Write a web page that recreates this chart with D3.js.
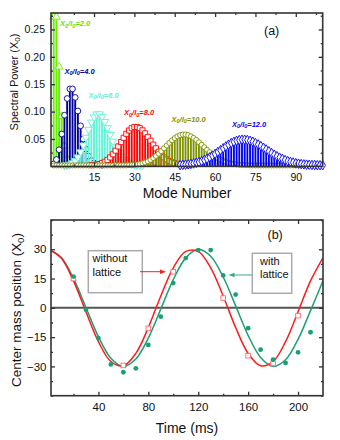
<!DOCTYPE html>
<html>
<head>
<meta charset="utf-8">
<script src="https://cdn.jsdelivr.net/npm/d3@7"></script>
<style>
body { margin: 0; background: #fff; }
svg { font-family: "Liberation Sans", Arial, sans-serif; }
</style>
</head>
<body>
<svg id="chart" width="340" height="440"></svg>
<script>
// ---- panel (a): spectral power per mode, one series per X0/l0 ----
var ratioNames = ['2.0', '4.0', '6.0', '8.0', '10.0', '12.0'];
var ratioColors = ['#66f000', '#00009c', '#62f2d6', '#ff0000', '#7e9200', '#0000ff'];
var labelColors = ['#66e000', '#00009c', '#5eeed2', '#ff0000', '#7e9200', '#0000ff'];
var firstMode = [0, 0, 4, 14, 0, 47];

var power2 = [0.271, 0.271, 0.180, 0.090, 0.036, 0.012, 0.003, 0.001];
var power4 = [0.0027, 0.0107, 0.0286, 0.0573, 0.0916, 0.1221, 0.1396, 0.1396, 0.1241, 0.0993,
              0.0722, 0.0481, 0.0296, 0.0169, 0.0090, 0.0045, 0.0021, 0.0009, 0.0004];
var power6 = [0.0003, 0.0007, 0.0019, 0.0042, 0.0083, 0.0150, 0.0245, 0.0368, 0.0509, 0.0655,
              0.0786, 0.0884, 0.0936, 0.0936, 0.0887, 0.0798, 0.0684, 0.0560, 0.0438, 0.0328,
              0.0237, 0.0164, 0.0109, 0.0070, 0.0044, 0.0026, 0.0015, 0.0009, 0.0005, 0.0003];
var power8 = [0.0004, 0.0008, 0.0014, 0.0024, 0.0041, 0.0066, 0.0100, 0.0146, 0.0203, 0.0270,
              0.0346, 0.0426, 0.0505, 0.0577, 0.0637, 0.0679, 0.0701, 0.0701, 0.0680, 0.0640,
              0.0585, 0.0520, 0.0450, 0.0379, 0.0311, 0.0249, 0.0194, 0.0148, 0.0110, 0.0080,
              0.0057, 0.0040, 0.0027, 0.0018, 0.0012, 0.0008, 0.0005];
var power10 = [0, 0, 0, 0, 0, 0, 0, 0, 0, 0, 0, 0, 0, 0, 0, 0, 0, 0, 0, 0, 0, 0, 0, 0, 0, 0, 0, 0,
               0.0004, 0.0007, 0.0011, 0.0017, 0.0026, 0.0038, 0.0054, 0.0075, 0.0102, 0.0134,
               0.0172, 0.0215, 0.0262, 0.0312, 0.0363, 0.0412, 0.0458, 0.0498, 0.0530, 0.0552,
               0.0563, 0.0563, 0.0552, 0.0531, 0.0501, 0.0464, 0.0422, 0.0377, 0.0331, 0.0285,
               0.0242, 0.0201, 0.0165, 0.0133, 0.0106, 0.0083, 0.0064, 0.0048, 0.0036, 0.0026,
               0.0019, 0.0014, 0.0010, 0.0007, 0.0005,
               0, 0, 0, 0, 0, 0, 0, 0, 0, 0, 0, 0, 0, 0, 0, 0, 0, 0, 0, 0, 0, 0, 0, 0, 0, 0, 0];
var power12 = [0.0006, 0.0009, 0.0013, 0.0019, 0.0026, 0.0035, 0.0047, 0.0061, 0.0078, 0.0098,
               0.0121, 0.0148, 0.0178, 0.0210, 0.0244, 0.0278, 0.0313, 0.0347, 0.0379, 0.0407,
               0.0431, 0.0450, 0.0462, 0.0469, 0.0469, 0.0463, 0.0450, 0.0432, 0.0409, 0.0383,
               0.0353, 0.0322, 0.0290, 0.0258, 0.0226, 0.0196, 0.0168, 0.0142, 0.0119, 0.0098,
               0.0080, 0.0065, 0.0052, 0.0041, 0.0032, 0.0025, 0.0019, 0.0014, 0.0011, 0.0008,
               0.0006, 0.0004, 0.0003, 0.0002];
var powerSeries = [power2, power4, power6, power8, power10, power12];
var markerShapes = [d3.symbolTriangle, d3.symbolCircle, 'down', d3.symbolSquare, d3.symbolCircle, d3.symbolDiamond];

var modeTicks = [15, 30, 45, 60, 75, 90];
var powerTicks = [0.05, 0.10, 0.15, 0.20, 0.25];

// ---- panel (b): center of mass oscillation ----
var fitTimes = [0, 10, 20, 30, 40, 50, 60, 70, 80, 90, 100, 110, 120, 130, 140, 150, 160, 170, 180, 190, 200, 210, 220];
var fitFree = [30, 25.6, 13.8, -2.0, -17.3, -27.5, -29.7, -23.3, -10.1, 6.1, 20.5, 28.9,
               28.9, 20.5, 6.1, -10.1, -23.3, -29.7, -27.5, -17.3, -2.0, 13.8, 25.6];
var fitLattice = [30, 26.0, 15.1, 0.2, -14.8, -25.8, -30.0, -26.2, -15.5, -0.6, 14.5, 25.6,
                  30.0, 26.4, 15.8, 1.0, -14.1, -25.4, -30.0, -26.6, -16.1, -1.4, 13.8];
var latticeTimes = [20, 30, 40, 50, 60, 70, 80, 90, 100, 110, 120, 130, 140, 150, 160, 170, 180, 190, 200, 210];
var latticePos = [16, -1, -15.5, -29, -33, -31, -19, -4.5, 12.7, 25.5, 29.6, 29.6, 16.6, 6.8,
                  -10.4, -21.4, -26.5, -28.2, -22.8, -12.5];
var freeTimes = [20, 60, 80, 100, 140, 160, 180, 200];
var freePos = [15, -29.5, -10.5, 18.5, 5, -24.5, -28.5, -4];

var timeTicks = [40, 80, 120, 160, 200];
var posTicks = [-30, -15, 0, 15, 30];

var svg = d3.select('#chart');
var frameColor = '#333';

// frame with inward ticks on all four sides
function drawFrame(x, y, o) {
    var x0 = x.range()[0], x1 = x.range()[1], y0 = y.range()[0], y1 = y.range()[1];
    var g = svg.append('g');

    g.append('g').attr('transform', `translate(0,${y0})`)
        .call(d3.axisBottom(x).tickValues(o.xMajor).tickSize(-4).tickPadding(o.xPad).tickFormat(d3.format('d')));
    g.append('g').attr('transform', `translate(0,${y0})`)
        .call(d3.axisBottom(x).tickValues(o.xMinor).tickSize(-2).tickFormat(''));
    g.append('g').attr('transform', `translate(0,${y1})`)
        .call(d3.axisTop(x).tickValues(o.xMajor).tickSize(-4).tickFormat(''));
    g.append('g').attr('transform', `translate(0,${y1})`)
        .call(d3.axisTop(x).tickValues(o.xMinor).tickSize(-2).tickFormat(''));

    g.append('g').attr('transform', `translate(${x0},0)`)
        .call(d3.axisLeft(y).tickValues(o.yMajor).tickSize(-4).tickPadding(o.yPad).tickFormat(o.yFmt));
    g.append('g').attr('transform', `translate(${x0},0)`)
        .call(d3.axisLeft(y).tickValues(o.yMinor).tickSize(-2).tickFormat(''));
    g.append('g').attr('transform', `translate(${x1},0)`)
        .call(d3.axisRight(y).tickValues(o.yMajor).tickSize(-4).tickFormat(''));
    g.append('g').attr('transform', `translate(${x1},0)`)
        .call(d3.axisRight(y).tickValues(o.yMinor).tickSize(-2).tickFormat(''));

    g.selectAll('.domain').remove();
    g.selectAll('.tick line').attr('stroke', frameColor).attr('stroke-width', 1.3);
    g.selectAll('.tick text').attr('fill', '#111').style('font-size', o.fs + 'px')
        .style('font-family', '"Liberation Sans", Arial, sans-serif');

    g.append('rect')
        .attr('x', x0).attr('y', y1)
        .attr('width', x1 - x0).attr('height', y0 - y1)
        .attr('fill', 'none').attr('stroke', frameColor).attr('stroke-width', 1.6);
}

// ================= panel (a) =================
var ax = d3.scaleLinear().domain([-1, 100]).range([51, 322.7]);
var ay = d3.scaleLinear().domain([0, 0.28]).range([166.4, 13]);
var barW = (ax(1) - ax(0)) * 0.7;

var plotA = svg.append('g');
powerSeries.forEach(function (vals, s) {
    var pts = vals.map((v, i) => ({ mode: firstMode[s] + i, p: v }))
        .filter(d => d.mode <= 100);
    var g = plotA.append('g');
    g.selectAll('rect')
        .data(pts.filter(d => d.p > 0))
        .enter().append('rect')
        .attr('x', d => ax(d.mode) - barW / 2)
        .attr('width', barW)
        .attr('y', d => ay(d.p))
        .attr('height', d => ay(0) - ay(d.p))
        .attr('fill', ratioColors[s]);

    var shape = markerShapes[s] === 'down' ? d3.symbolTriangle : markerShapes[s];
    var sym = d3.symbol().type(shape).size(s === 4 ? 20 : 26);
    g.selectAll('path')
        .data(pts)
        .enter().append('path')
        .attr('d', sym)
        .attr('transform', d => `translate(${ax(d.mode)},${ay(d.p) - 1})` + (markerShapes[s] === 'down' ? ' rotate(180)' : ''))
        .attr('fill', 'white')
        .attr('stroke', ratioColors[s])
        .attr('stroke-width', 0.9);
});

drawFrame(ax, ay, {
    xMajor: modeTicks, xMinor: d3.range(7.5, 100, 15), xPad: 7.5,
    yMajor: powerTicks, yMinor: d3.range(0.025, 0.28, 0.05), yPad: 6,
    yFmt: d3.format('.2f'), fs: 10.5
});

// series labels X0/l0 = ...
var labelPos = [[60, 26], [64.5, 73.5], [88.5, 97.5], [124, 115], [171.5, 121.5], [232, 126.5]];
ratioNames.forEach(function (name, s) {
    var t = svg.append('text')
        .attr('x', labelPos[s][0]).attr('y', labelPos[s][1])
        .attr('fill', labelColors[s])
        .style('font-size', '7.5px').style('font-weight', 'bold').style('font-style', 'italic');
    t.append('tspan').text('X');
    t.append('tspan').attr('dy', 1.8).style('font-size', '5.5px').text('0');
    t.append('tspan').attr('dy', -1.8).text('/l');
    t.append('tspan').attr('dy', 1.8).style('font-size', '5.5px').text('0');
    t.append('tspan').attr('dy', -1.8).text('=' + name);
});

svg.append('text').attr('x', 264).attr('y', 34.5).style('font-size', '12.5px').attr('fill', '#111').text('(a)');

svg.append('text')
    .attr('x', 187).attr('y', 198)
    .attr('text-anchor', 'middle')
    .style('font-size', '14px').attr('fill', '#111')
    .text('Mode Number');

var yLabA = svg.append('text')
    .attr('transform', 'translate(17.5,82) rotate(-90)')
    .attr('text-anchor', 'middle')
    .style('font-size', '11px').attr('fill', '#111');
yLabA.append('tspan').text('Spectral Power (X');
yLabA.append('tspan').attr('dy', 2.5).style('font-size', '8px').text('0');
yLabA.append('tspan').attr('dy', -2.5).text(')');

// ================= panel (b) =================
var bx = d3.scaleLinear().domain([2, 220]).range([51, 323]);
var by = d3.scaleLinear().domain([-45, 45]).range([395.7, 220]);

svg.append('clipPath').attr('id', 'clipB')
    .append('rect').attr('x', bx(2)).attr('y', by(45))
    .attr('width', bx(220) - bx(2)).attr('height', by(-45) - by(45));

var plotB = svg.append('g').attr('clip-path', 'url(#clipB)');

plotB.append('line')
    .attr('x1', bx(2)).attr('x2', bx(220))
    .attr('y1', by(0)).attr('y2', by(0))
    .attr('stroke', '#555').attr('stroke-width', 2);

var fitLine = d3.line()
    .x((d, i) => bx(fitTimes[i]))
    .y(d => by(d))
    .curve(d3.curveCatmullRom);

var greenCol = '#1c9f74', redCol = '#ff1a1a';

plotB.append('path').datum(fitLattice)
    .attr('d', fitLine).attr('fill', 'none')
    .attr('stroke', greenCol).attr('stroke-width', 1.5);
plotB.append('path').datum(fitFree)
    .attr('d', fitLine).attr('fill', 'none')
    .attr('stroke', redCol).attr('stroke-width', 1.5);

plotB.selectAll('.sq')
    .data(freePos)
    .enter().append('rect')
    .attr('class', 'sq')
    .attr('x', (d, i) => bx(freeTimes[i]) - 2.3)
    .attr('y', d => by(d) - 2.3)
    .attr('width', 4.6).attr('height', 4.6)
    .attr('fill', 'white').attr('stroke', '#ff6a6a').attr('stroke-width', 0.9);

plotB.selectAll('.dot')
    .data(latticePos)
    .enter().append('circle')
    .attr('class', 'dot')
    .attr('cx', (d, i) => bx(latticeTimes[i]))
    .attr('cy', d => by(d))
    .attr('r', 2.4)
    .attr('fill', greenCol);

drawFrame(bx, by, {
    xMajor: timeTicks, xMinor: d3.range(20, 220, 40), xPad: 7,
    yMajor: posTicks, yMinor: [-45, -37.5, -22.5, -7.5, 7.5, 22.5, 37.5, 45], yPad: 4.5,
    yFmt: d3.format('d'), fs: 11.5
});

// annotation boxes with arrows
function noteBox(x0, y0, x1, y1, lines, tx) {
    svg.append('rect')
        .attr('x', x0).attr('y', y0).attr('width', x1 - x0).attr('height', y1 - y0)
        .attr('fill', 'white').attr('stroke', '#aaa').attr('stroke-width', 1.5);
    lines.forEach(function (l, i) {
        svg.append('text').attr('x', tx).attr('y', y0 + 11.3 + i * 13.6)
            .style('font-size', '11px').attr('fill', '#111').text(l);
    });
}
function arrow(xFrom, xTo, yy, color) {
    var dir = xTo > xFrom ? 1 : -1;
    svg.append('line')
        .attr('x1', xFrom).attr('x2', xTo - dir * 5)
        .attr('y1', yy).attr('y2', yy)
        .attr('stroke', color).attr('stroke-width', 1);
    svg.append('path')
        .attr('d', `M${xTo},${yy} L${xTo - dir * 6},${yy - 2.2} L${xTo - dir * 6},${yy + 2.2} Z`)
        .attr('fill', color);
}

noteBox(88.3, 250.7, 142.3, 292.7, ['without', 'lattice'], 92.5);
arrow(140, 166, 271.7, redCol);
noteBox(252.3, 253.3, 291.7, 293.3, ['with', 'lattice'], 260);
arrow(252, 228.5, 275, '#3aaa84');

svg.append('text').attr('x', 267.5).attr('y', 238.5).style('font-size', '12.5px').attr('fill', '#111').text('(b)');

svg.append('text')
    .attr('x', 187).attr('y', 433)
    .attr('text-anchor', 'middle')
    .style('font-size', '14px').attr('fill', '#111')
    .text('Time (ms)');

var yLabB = svg.append('text')
    .attr('transform', 'translate(21,310) rotate(-90)')
    .attr('text-anchor', 'middle')
    .style('font-size', '13.5px').attr('fill', '#111');
yLabB.append('tspan').text('Center mass position (X');
yLabB.append('tspan').attr('dy', 3).style('font-size', '9.5px').text('0');
yLabB.append('tspan').attr('dy', -3).text(')');
</script>
</body>
</html>
